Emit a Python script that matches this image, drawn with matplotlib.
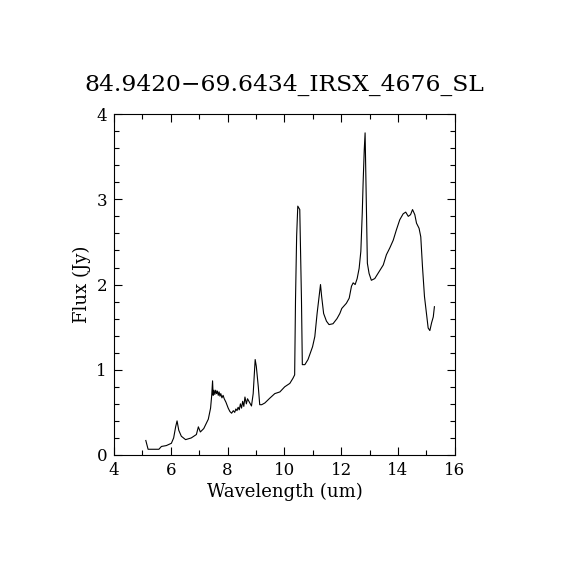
import matplotlib
matplotlib.use("Agg")
import matplotlib.pyplot as plt
from matplotlib.ticker import MultipleLocator

# spectrum
wavelength = [5.12, 5.2, 5.58, 5.67, 5.84, 6.02, 6.1, 6.17, 6.22, 6.28, 6.37, 6.52,
              6.72, 6.9, 6.97, 7.04, 7.16, 7.32, 7.4, 7.44, 7.47, 7.49, 7.52, 7.55,
              7.58, 7.61, 7.64, 7.67, 7.7, 7.73, 7.76, 7.8, 7.84, 7.88, 7.94, 8.02,
              8.08, 8.14, 8.2, 8.25, 8.29, 8.33, 8.37, 8.41, 8.45, 8.49, 8.53, 8.57,
              8.61, 8.66, 8.7, 8.75, 8.84, 8.9, 8.94, 8.97, 9.01, 9.08, 9.13, 9.2,
              9.31, 9.48, 9.66, 9.84, 10.01, 10.19, 10.3, 10.36, 10.39, 10.43, 10.47,
              10.54, 10.56, 10.6, 10.63, 10.72, 10.83, 10.99, 11.07, 11.15, 11.22,
              11.27, 11.31, 11.38, 11.48, 11.57, 11.71, 11.85, 11.95, 12.02, 12.18,
              12.28, 12.36, 12.42, 12.49, 12.56, 12.63, 12.69, 12.74, 12.77, 12.81,
              12.84, 12.86, 12.89, 12.92, 12.98, 13.06, 13.18, 13.33, 13.48, 13.59,
              13.71, 13.83, 13.94, 14.06, 14.18, 14.27, 14.36, 14.44, 14.51, 14.59,
              14.65, 14.74, 14.8, 14.86, 14.93, 15.0, 15.06, 15.12, 15.18, 15.24, 15.28]
flux = [0.17, 0.067, 0.067, 0.10, 0.11, 0.137, 0.2, 0.33, 0.40, 0.29, 0.22, 0.18,
        0.2, 0.24, 0.33, 0.27, 0.31, 0.42, 0.55, 0.70, 0.87, 0.70, 0.76, 0.71,
        0.76, 0.72, 0.75, 0.70, 0.74, 0.69, 0.72, 0.67, 0.70, 0.66, 0.62, 0.55,
        0.51, 0.49, 0.52, 0.50, 0.54, 0.52, 0.56, 0.53, 0.60, 0.55, 0.63, 0.57,
        0.68, 0.60, 0.66, 0.63, 0.575, 0.72, 0.95, 1.12, 1.04, 0.80, 0.59, 0.59,
        0.61, 0.665, 0.72, 0.74, 0.80, 0.84, 0.90, 0.94, 1.82, 2.57, 2.92,
        2.88, 2.52, 1.82, 1.06, 1.06, 1.12, 1.27, 1.39, 1.66, 1.86,
        2.0, 1.86, 1.66, 1.57, 1.53, 1.54, 1.60, 1.66, 1.72, 1.78,
        1.84, 1.98, 2.02, 2.0, 2.07, 2.19, 2.39, 2.84, 3.19, 3.58,
        3.78, 3.39, 2.76, 2.25, 2.13, 2.05, 2.07, 2.15, 2.23, 2.35,
        2.43, 2.52, 2.64, 2.76, 2.83, 2.85, 2.80, 2.82, 2.88, 2.82,
        2.72, 2.66, 2.56, 2.21, 1.86, 1.66, 1.49, 1.46, 1.55, 1.62, 1.74]

plt.rcParams['font.family'] = ['DejaVu Serif']

fig = plt.figure(figsize=(5.7, 5.7), dpi=100)
ax = fig.add_axes([0.2, 0.2018, 0.598, 0.598])

ax.plot(wavelength, flux, color='black', linewidth=0.8)

ax.set_xlim(4, 16)
ax.set_ylim(0, 4)
ax.xaxis.set_major_locator(MultipleLocator(2))
ax.xaxis.set_minor_locator(MultipleLocator(1))
ax.yaxis.set_major_locator(MultipleLocator(1))
ax.yaxis.set_minor_locator(MultipleLocator(0.2))
ax.tick_params(which='both', direction='in', top=True, right=True, width=0.8,
               labelsize=12, pad=5)
ax.tick_params(which='major', length=6)
ax.tick_params(which='minor', length=3.5)
for sp in ax.spines.values():
    sp.set_linewidth(0.8)

ax.set_xlabel('Wavelength (um)', fontsize=13, labelpad=3)
ax.set_ylabel('Flux (Jy)', fontsize=13, labelpad=4)
ax.set_title('84.9420\u221269.6434_IRSX_4676_SL', fontsize=16.8, pad=17)

fig.savefig('out.png', dpi=100)
